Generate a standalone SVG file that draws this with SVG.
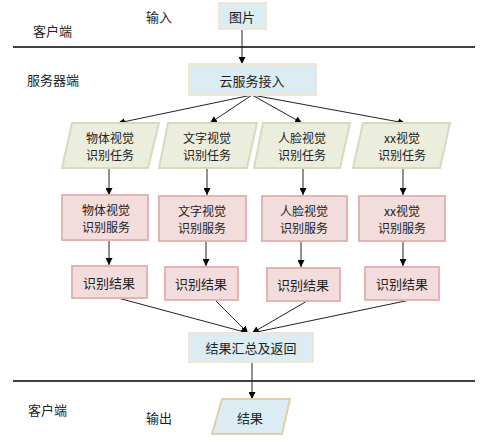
<svg xmlns="http://www.w3.org/2000/svg" width="500" height="442" viewBox="0 0 500 442">
<defs>
<marker id="ah" viewBox="0 0 10 10" refX="10" refY="5" markerWidth="7" markerHeight="7" orient="auto" markerUnits="userSpaceOnUse"><path d="M0,0 L10,5 L0,10 z" fill="#000"/></marker>
<style>
text{font-family:"Noto Sans CJK SC","Liberation Sans",sans-serif;font-size:13px;fill:#222;text-anchor:middle;dominant-baseline:central}
.two{font-size:12px}
.lbl{text-anchor:start}
.blue{fill:#dbecf2;stroke:#f0e6d2;stroke-width:2}
.task{fill:#ebeedd;stroke:#d8dac0;stroke-width:2}
.svc{fill:#f2dcdc;stroke:#e2b4b4;stroke-width:2}
.out{fill:#dbecf2;stroke:#e0d0a8;stroke-width:2}
.sep{stroke:#000;stroke-width:1.6}
.c{stroke:#222;stroke-width:1;fill:none;marker-end:url(#ah)}
</style>
</defs>
<rect width="500" height="442" fill="#fff"/>
<line class="sep" x1="13" y1="47" x2="475" y2="47"/>
<line class="sep" x1="13" y1="381" x2="475" y2="381"/>
<text class="lbl" x="33" y="30">客户端</text>
<text class="lbl" x="146" y="16">输入</text>
<text class="lbl" x="27" y="79">服务器端</text>
<text class="lbl" x="28" y="409">客户端</text>
<text class="lbl" x="146" y="417">输出</text>

<g id="connectors">
<line class="c" x1="242" y1="29" x2="242" y2="64"/>
<line class="c" x1="252" y1="95" x2="118" y2="123"/>
<line class="c" x1="252" y1="95" x2="210" y2="123"/>
<line class="c" x1="252" y1="95" x2="302" y2="123"/>
<line class="c" x1="252" y1="95" x2="405" y2="123"/>
<line class="c" x1="109" y1="168" x2="109" y2="195"/>
<line class="c" x1="207" y1="168" x2="207" y2="195"/>
<line class="c" x1="303" y1="168" x2="303" y2="195"/>
<line class="c" x1="403" y1="168" x2="403" y2="195"/>
<line class="c" x1="109" y1="240" x2="109" y2="265"/>
<line class="c" x1="206" y1="241" x2="206" y2="266"/>
<line class="c" x1="301" y1="241" x2="301" y2="267"/>
<line class="c" x1="403" y1="241" x2="403" y2="266"/>
<line class="c" x1="118" y1="298" x2="248" y2="333"/>
<line class="c" x1="215" y1="300" x2="248" y2="333"/>
<line class="c" x1="307" y1="301" x2="252" y2="333"/>
<line class="c" x1="410" y1="300" x2="252" y2="333"/>
<line class="c" x1="252" y1="362" x2="252" y2="399"/>
</g>

<g id="n-img"><rect class="blue" x="219" y="3" width="47" height="26"/><text x="242" y="16">图片</text></g>
<g id="n-cloud"><rect class="blue" x="189" y="64" width="127" height="31"/><text x="252" y="80">云服务接入</text></g>

<g id="t1"><polygon class="task" points="72,123 159,123 148,168 62,168"/><text class="two" x="110" y="137">物体视觉</text><text class="two" x="110" y="154.5">识别任务</text></g>
<g id="t2"><polygon class="task" points="168,123 257,123 247,168 159,168"/><text class="two" x="207" y="137">文字视觉</text><text class="two" x="207" y="154.5">识别任务</text></g>
<g id="t3"><polygon class="task" points="263,123 350,123 340,168 254,168"/><text class="two" x="302" y="137">人脸视觉</text><text class="two" x="302" y="154.5">识别任务</text></g>
<g id="t4"><polygon class="task" points="363,123 450,123 440,168 353,168"/><text class="two" x="402" y="137">xx视觉</text><text class="two" x="402" y="154.5">识别任务</text></g>

<g id="s1"><rect class="svc" x="62" y="195" width="86" height="45"/><text class="two" x="106" y="209">物体视觉</text><text class="two" x="106" y="226.5">识别服务</text></g>
<g id="s2"><rect class="svc" x="159" y="196" width="87" height="45"/><text class="two" x="202" y="210">文字视觉</text><text class="two" x="202" y="227.5">识别服务</text></g>
<g id="s3"><rect class="svc" x="262" y="196" width="85" height="45"/><text class="two" x="304" y="210">人脸视觉</text><text class="two" x="304" y="227.5">识别服务</text></g>
<g id="s4"><rect class="svc" x="359" y="196" width="86" height="45"/><text class="two" x="402" y="210">xx视觉</text><text class="two" x="402" y="227.5">识别服务</text></g>

<g id="r1"><rect class="svc" x="72" y="266" width="75" height="32"/><text x="109" y="282">识别结果</text></g>
<g id="r2"><rect class="svc" x="165" y="267" width="73" height="33"/><text x="201" y="283">识别结果</text></g>
<g id="r3"><rect class="svc" x="267" y="268" width="73" height="33"/><text x="303" y="284">识别结果</text></g>
<g id="r4"><rect class="svc" x="365" y="267" width="74" height="33"/><text x="402" y="283">识别结果</text></g>

<g id="n-sum"><rect class="blue" x="189" y="333" width="124" height="29"/><text x="251" y="347">结果汇总及返回</text></g>
<g id="n-out"><polygon class="out" points="222,399 290,399 282,434 212,434"/><text x="250" y="417">结果</text></g>
</svg>
